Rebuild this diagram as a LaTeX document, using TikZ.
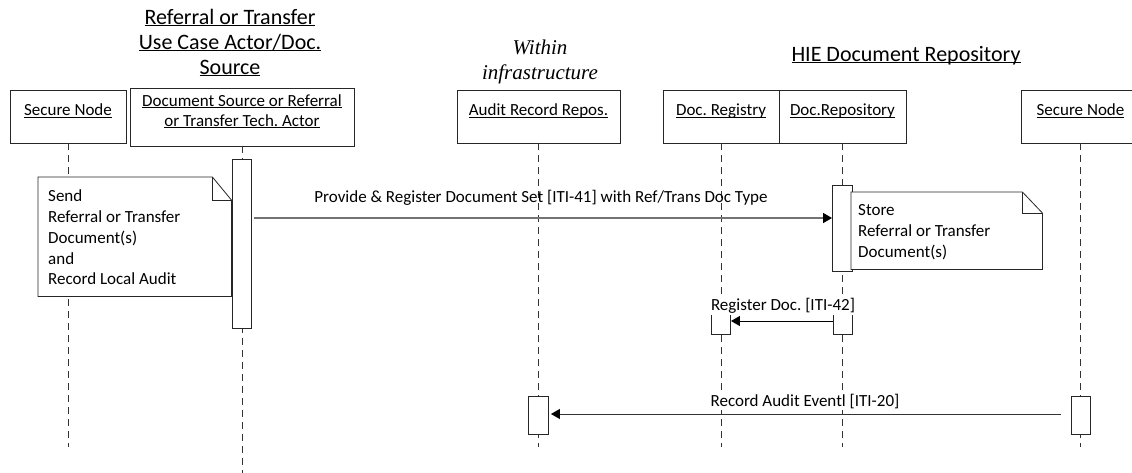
\documentclass[tikz,border=0pt]{standalone}
\usepackage{fontspec}
\setmainfont{Carlito}
\newfontfamily\serifit{Liberation Serif}
\usetikzlibrary{arrows.meta}
\newcommand\ulx[1]{\underline{\smash{#1}}}
\frenchspacing
\begin{document}
\begin{tikzpicture}[x=1pt,y=-1pt,
 box/.style={draw=black!85, line width=0.9pt, fill=white, inner sep=0pt, font=\fontsize{17}{20}\selectfont, align=center},
 bar/.style={draw=black!85, line width=0.9pt, fill=white, inner sep=0pt, minimum width=19pt},
 lifeline/.style={draw=black!80, line width=0.9pt, dash pattern=on 7pt off 5pt},
 notebox/.style={draw=black!85, line width=0.8pt, fill=white, inner sep=0pt},
 notetext/.style={font=\fontsize{17}{20.7}\selectfont, align=left, inner sep=0pt},
 msg/.style={line width=1pt, -{Triangle[length=9pt,width=10pt,color=black]}},
 msglabel/.style={font=\fontsize{17}{20}\selectfont, inner sep=1pt},
 titletext/.style={font=\fontsize{22}{25}\selectfont, align=center, inner sep=0pt},
]
\useasboundingbox (0,0) rectangle (1132,472);

% actor boxes
\node[box, minimum width=116pt, minimum height=53pt] (sn1) at (68,116.5) {\ulx{Secure Node}};
\node[box, minimum width=224pt, minimum height=58pt] (src) at (242,117) {\ulx{Document Source or Referral}\\\ulx{or Transfer Tech. Actor}};
\node[box, minimum width=163pt, minimum height=53pt] (audit) at (538.5,116.5) {\ulx{Audit Record Repos.}};
\node[box, minimum width=116pt, minimum height=53pt] (reg) at (721,116.5) {\ulx{Doc. Registry}};
\node[box, minimum width=127pt, minimum height=53pt] (repo) at (842.5,116.5) {\ulx{Doc.Repository}};
\node[box, minimum width=119pt, minimum height=53pt] (sn2) at (1080.5,116.5) {\ulx{Secure Node}};

% titles
\node[titletext] (t1) at (230,50) {\ulx{Referral or Transfer}\\\ulx{Use Case Actor/Doc.}\\\ulx{Source}};
\node[titletext, font=\serifit\itshape\fontsize{21}{25}\selectfont] (t2) at (540,62) {Within\\infrastructure};
\node[titletext] (t3) at (906,62) {\ulx{HIE Document Repository}};

% lifeline ends
\coordinate (sn1end) at (68,447);
\coordinate (srcend) at (242,475);
\coordinate (auditend) at (538.5,447);
\coordinate (regend) at (721,447);
\coordinate (repoend) at (842.5,447);
\coordinate (sn2end) at (1080.5,447);

\draw[lifeline] (sn1.south) -- (sn1end);
\draw[lifeline] (src.south) -- (srcend);
\draw[lifeline] (audit.south) -- (auditend);
\draw[lifeline] (reg.south) -- (regend);
\draw[lifeline] (repo.south) -- (repoend);
\draw[lifeline] (sn2.south) -- (sn2end);

% activation bars
\node[bar, minimum height=169pt] (srcbar) at (242,243.5) {};
\node[bar, minimum width=20pt, minimum height=86pt] (repobar) at (842.5,228) {};
\node[bar, minimum height=20pt] (regbar) at (721,324) {};
\node[bar, minimum height=20pt] (repobar2) at (842.5,324) {};
\node[bar, minimum width=20pt, minimum height=38pt] (auditbar) at (538.5,415) {};
\node[bar, minimum height=38pt] (sn2bar) at (1080.5,415) {};

% notes
\node[inner sep=0pt, minimum width=193pt, minimum height=119pt, anchor=north west] (note1) at (38,177) {};
\draw[notebox] (note1.north west) -- ([xshift=-19pt]note1.north east) -- ([yshift=-23pt]note1.north east) -- (note1.south east) -- (note1.south west) -- cycle;
\draw[notebox, fill=none] ([xshift=-19pt]note1.north east) -- ([xshift=-19pt,yshift=-23pt]note1.north east) -- ([yshift=-23pt]note1.north east);
\node[notetext, anchor=west] (note1text) at (48,237.5) {Send\\Referral or Transfer\\Document(s)\\and\\Record Local Audit};

\node[inner sep=0pt, minimum width=191pt, minimum height=77pt, anchor=north west] (note2) at (851,192) {};
\draw[notebox] (note2.north west) -- ([xshift=-20pt]note2.north east) -- ([yshift=-21pt]note2.north east) -- (note2.south east) -- (note2.south west) -- cycle;
\draw[notebox, fill=none] ([xshift=-20pt]note2.north east) -- ([xshift=-20pt,yshift=-21pt]note2.north east) -- ([yshift=-21pt]note2.north east);
\node[notetext, anchor=west] (note2text) at (858,232) {Store\\Referral or Transfer\\Document(s)};

% messages
\coordinate (m1) at (0,218);
\coordinate (m2) at (0,321);
\coordinate (m3) at (0,414);
\draw[msg, draw=black!55, line width=1.4pt, shorten <=2pt] (srcbar.east |- m1) -- (repobar.west |- m1);
\draw[msg] (repobar2.west |- m2) -- (regbar.east |- m2);
\draw[msg, draw=black!80, shorten <=10pt, shorten >=2pt] (sn2bar.west |- m3) -- (auditbar.east |- m3);

\node[msglabel] (l1) at (541,198) {Provide \& Register Document Set [ITI-41] with Ref/Trans Doc Type};
\node[msglabel, fill=white] (l2) at (783,306) {Register Doc. [ITI-42]};
\node[msglabel, fill=white] (l3) at (805,402) {Record Audit Eventl [ITI-20]};
\end{tikzpicture}
\end{document}
